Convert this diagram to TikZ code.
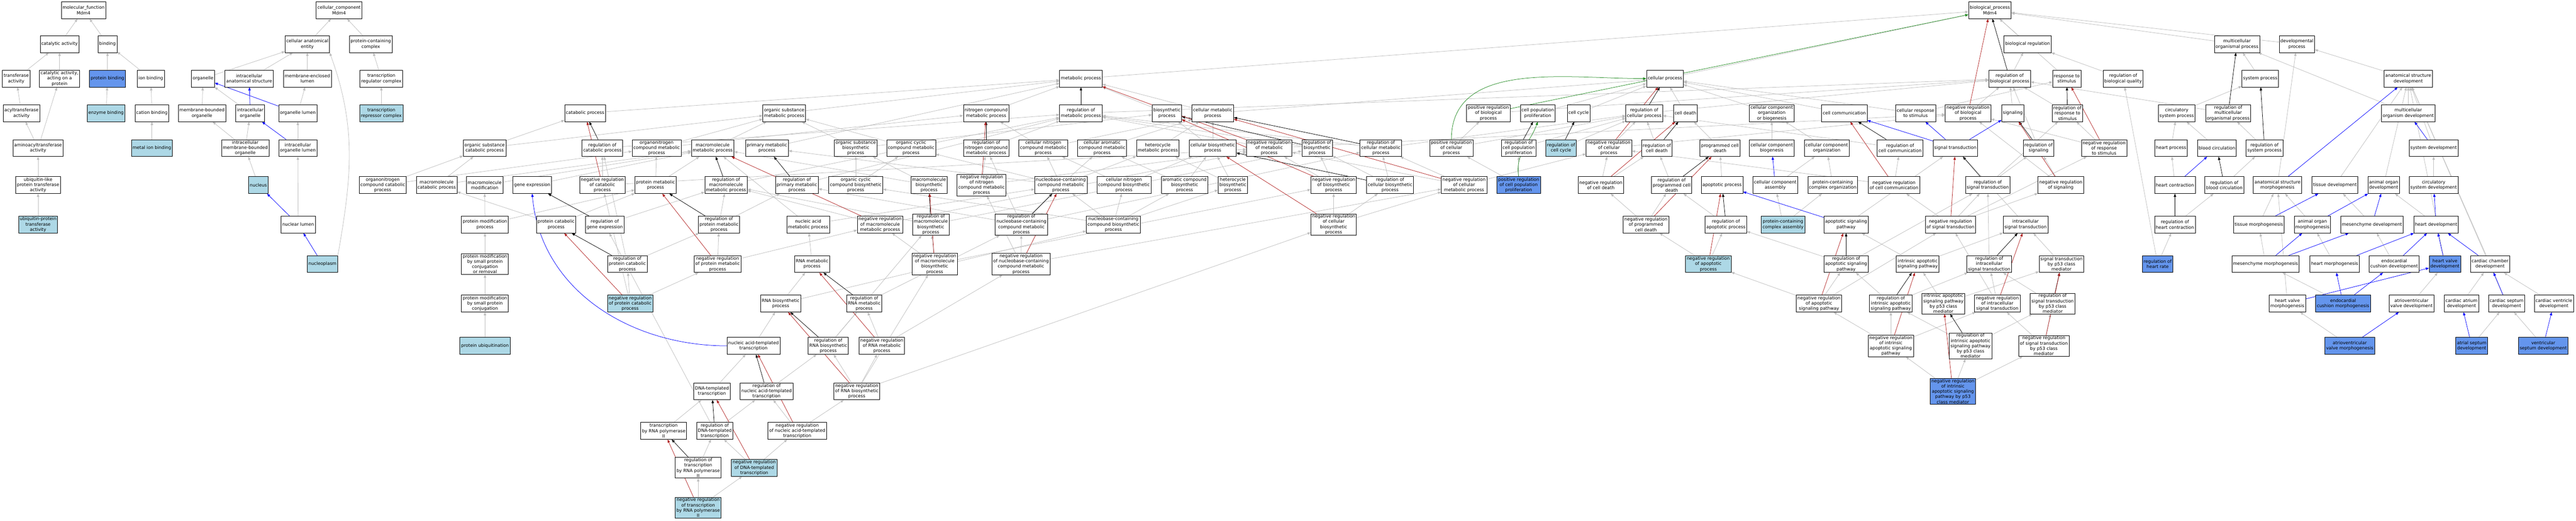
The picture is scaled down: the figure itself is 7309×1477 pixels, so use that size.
\documentclass[tikz,border=0pt]{standalone}
\usepackage{fontspec}
\setmainfont{DejaVu Sans}
\usetikzlibrary{arrows.meta,backgrounds}
\definecolor{lblue}{HTML}{ADD8E6}
\definecolor{cblue}{HTML}{6495ED}
\definecolor{egrey}{HTML}{BEBEBE}
\definecolor{ered}{HTML}{B22222}
\definecolor{egreen}{HTML}{228B22}
\tikzset{
  term/.style={draw, line width=1pt, fill=white, align=center, inner xsep=3.5pt, inner ysep=2pt, minimum height=48pt, font=\fontsize{12.5}{15}\selectfont},
  lbterm/.style={term, fill=lblue},
  cbterm/.style={term, fill=cblue},
  isaedge/.style={draw=egrey, line width=1.1pt, -{Triangle[length=9pt,width=7pt]}},
  regedge/.style={isaedge, draw=black},
  negedge/.style={isaedge, draw=ered},
  partedge/.style={isaedge, draw=blue},
  posedge/.style={isaedge, draw=egreen}
}
\begin{document}
\begin{tikzpicture}[x=1pt,y=-1pt]
\useasboundingbox (0,0) rectangle (7309,1477);
% molecular function
\node[term] (mf) at (237,29) {molecular\_function\\Mdm4};
\node[term] (cat) at (169,125) {catalytic activity};
\node[term] (bind) at (305,125) {binding};
\node[term] (trans) at (46,223) {transferase\\activity};
\node[term] (catp) at (169,223) {catalytic activity,\\acting on a\\protein};
\node[cbterm] (pbind) at (305,223) {protein binding};
\node[term] (ionb) at (428,223) {ion binding};
\node[term] (acyl) at (61,321) {acyltransferase\\activity};
\node[lbterm] (enzb) at (301,321) {enzyme binding};
\node[term] (catb) at (431,321) {cation binding};
\node[term] (amino) at (108,420) {aminoacyltransferase\\activity};
\node[lbterm] (metb) at (431,420) {metal ion binding};
\node[term] (ubl) at (108,525) {ubiquitin-like\\protein transferase\\activity};
\node[lbterm] (ubp) at (108,637) {ubiquitin-protein\\transferase\\activity};
% cellular component
\node[term] (cc) at (962,29) {cellular\_component\\Mdm4};
\node[term] (cae) at (872,125) {cellular anatomical\\entity};
\node[term] (pcc) at (1052,125) {protein-containing\\complex};
\node[term] (org) at (576,223) {organelle};
\node[term] (ias) at (707,223) {intracellular\\anatomical structure};
\node[term] (mel) at (872,223) {membrane-enclosed\\lumen};
\node[term] (trc) at (1082,223) {transcription\\regulator complex};
\node[term] (mbo) at (573,321) {membrane-bounded\\organelle};
\node[term] (io) at (710,321) {intracellular\\organelle};
\node[term] (ol) at (845,321) {organelle lumen};
\node[lbterm] (trpc) at (1082,321) {transcription\\repressor complex};
\node[term] (imbo) at (696,420) {intracellular\\membrane-bounded\\organelle};
\node[term] (iol) at (845,420) {intracellular\\organelle lumen};
\node[lbterm] (nuc) at (733,525) {nucleus};
\node[term] (nlum) at (846,637) {nuclear lumen};
\node[lbterm] (nplasm) at (915,749) {nucleoplasm};
% biological process, upper ranks
\node[term] (bp) at (5646,29) {biological\_process\\Mdm4};
\node[term] (breg) at (5753,125) {biological regulation};
\node[term] (mop) at (6347,125) {multicellular\\organismal process};
\node[term] (devp) at (6517,125) {developmental\\process};
\node[term] (metp) at (3067,223) {metabolic process};
\node[term] (cellp) at (4724,223) {cellular process};
\node[term] (rbp) at (5702,223) {regulation of\\biological process};
\node[term] (rstim) at (5864,223) {response to\\stimulus};
\node[term] (rbq) at (6024,223) {regulation of\\biological quality};
\node[term] (sysp) at (6413,223) {system process};
\node[term] (asd) at (6833,223) {anatomical structure\\development};
% rank 4
\node[term] (cata) at (1660,321) {catabolic process};
\node[term] (osmp) at (2225,321) {organic substance\\metabolic process};
\node[term] (ncmp) at (2798,321) {nitrogen compound\\metabolic process};
\node[term] (rmp) at (3067,321) {regulation of\\metabolic process};
\node[term] (bsp) at (3311,321) {biosynthetic\\process};
\node[term] (cmp) at (3441,321) {cellular metabolic\\process};
\node[term] (prbp) at (4223,321) {positive regulation\\of biological\\process};
\node[term] (cpp) at (4363,321) {cell population\\proliferation};
\node[term] (ccyc) at (4479,321) {cell cycle};
\node[term] (rcp) at (4665,321) {regulation of\\cellular process};
\node[term] (cdeath) at (4782,321) {cell death};
\node[term] (ccob) at (5027,321) {cellular component\\organization\\or biogenesis};
\node[term] (ccom) at (5233,321) {cell communication};
\node[term] (crs) at (5435,321) {cellular response\\to stimulus};
\node[term] (nrbp) at (5584,321) {negative regulation\\of biological\\process};
\node[term] (sig) at (5711,321) {signaling};
\node[term] (rrs) at (5866,321) {regulation of\\response to\\stimulus};
\node[term] (csp) at (6176,321) {circulatory\\system process};
\node[term] (rmop) at (6322,321) {regulation of\\multicellular\\organismal process};
\node[term] (mod) at (6833,321) {multicellular\\organism development};
% rank 5
\node[term] (oscp) at (1375,420) {organic substance\\catabolic process};
\node[term] (rcat) at (1709,420) {regulation of\\catabolic process};
\node[term] (oncmp) at (1863,420) {organonitrogen\\compound metabolic\\process};
\node[term] (mmp) at (2022,420) {macromolecule\\metabolic process};
\node[term] (pmp) at (2176,420) {primary metabolic\\process};
\node[term] (osbp) at (2428,420) {organic substance\\biosynthetic\\process};
\node[term] (occmp) at (2585,420) {organic cyclic\\compound metabolic\\process};
\node[term] (rncmp) at (2798,420) {regulation of\\nitrogen compound\\metabolic process};
\node[term] (cncmp) at (2960,420) {cellular nitrogen\\compound metabolic\\process};
\node[term] (camp) at (3127,420) {cellular aromatic\\compound metabolic\\process};
\node[term] (hmp) at (3285,420) {heterocycle\\metabolic process};
\node[term] (cbsp) at (3441,420) {cellular biosynthetic\\process};
\node[term] (nrmp) at (3601,420) {negative regulation\\of metabolic\\process};
\node[term] (rbsp) at (3737,420) {regulation of\\biosynthetic\\process};
\node[term] (rcmp) at (3918,420) {regulation of\\cellular metabolic\\process};
\node[term] (prcp) at (4118,420) {positive regulation\\of cellular\\process};
\node[term] (rcpp) at (4309,420) {regulation of\\cell population\\proliferation};
\node[lbterm] (rccyc) at (4429,420) {regulation of\\cell cycle};
\node[term] (nrcp) at (4565,420) {negative regulation\\of cellular\\process};
\node[term] (rcd) at (4701,420) {regulation of\\cell death};
\node[term] (pcd) at (4880,420) {programmed cell\\death};
\node[term] (ccbio) at (5027,420) {cellular component\\biogenesis};
\node[term] (ccorg) at (5183,420) {cellular component\\organization};
\node[term] (rcc) at (5391,420) {regulation of\\cell communication};
\node[term] (st) at (5548,420) {signal transduction};
\node[term] (rsig) at (5784,420) {regulation of\\signaling};
\node[term] (nrrs) at (5970,420) {negative regulation\\of response\\to stimulus};
\node[term] (hp) at (6160,420) {heart process};
\node[term] (bc) at (6290,420) {blood circulation};
\node[term] (rsp) at (6425,420) {regulation of\\system process};
\node[term] (sdev) at (6905,420) {system development};
% rank 6
\node[term] (oncc) at (1086,525) {organonitrogen\\compound catabolic\\process};
\node[term] (mcp) at (1239,525) {macromolecule\\catabolic process};
\node[term] (mmod) at (1375,525) {macromolecule\\modification};
\node[term] (gexp) at (1510,525) {gene expression};
\node[term] (nrcat) at (1709,525) {negative regulation\\of catabolic\\process};
\node[term] (pmet) at (1860,525) {protein metabolic\\process};
\node[term] (rmmp) at (2060,525) {regulation of\\macromolecule\\metabolic process};
\node[term] (rpmp) at (2261,525) {regulation of\\primary metabolic\\process};
\node[term] (occbp) at (2428,525) {organic cyclic\\compound biosynthetic\\process};
\node[term] (mbp) at (2636,525) {macromolecule\\biosynthetic\\process};
\node[term] (nrncmp) at (2785,525) {negative regulation\\of nitrogen\\compound metabolic\\process};
\node[term] (nccmp) at (3010,525) {nucleobase-containing\\compound metabolic\\process};
\node[term] (cncbp) at (3189,525) {cellular nitrogen\\compound biosynthetic\\process};
\node[term] (acbp) at (3361,525) {aromatic compound\\biosynthetic\\process};
\node[term] (hbp) at (3498,525) {heterocycle\\biosynthetic\\process};
\node[term] (nrbsp) at (3784,525) {negative regulation\\of biosynthetic\\process};
\node[term] (rcbp) at (3944,525) {regulation of\\cellular biosynthetic\\process};
\node[term] (nrcmp) at (4154,525) {negative regulation\\of cellular\\metabolic process};
\node[cbterm] (prcpp) at (4309,525) {positive regulation\\of cell population\\proliferation};
\node[term] (nrcd) at (4542,525) {negative regulation\\of cell death};
\node[term] (rpcd) at (4743,525) {regulation of\\programmed cell\\death};
\node[term] (apop) at (4886,525) {apoptotic process};
\node[term] (cca) at (5037,525) {cellular component\\assembly};
\node[term] (pcco) at (5200,525) {protein-containing\\complex organization};
\node[term] (nrcc) at (5374,525) {negative regulation\\of cell communication};
\node[term] (rst) at (5640,525) {regulation of\\signal transduction};
\node[term] (nrsig) at (5847,525) {negative regulation\\of signaling};
\node[term] (hc) at (6171,525) {heart contraction};
\node[term] (rbc) at (6311,525) {regulation of\\blood circulation};
\node[term] (asm) at (6462,525) {anatomical structure\\morphogenesis};
\node[term] (tdev) at (6625,525) {tissue development};
\node[term] (aod) at (6763,525) {animal organ\\development};
\node[term] (csd) at (6905,525) {circulatory\\system development};
% rank 7
\node[term] (pmod) at (1376,637) {protein modification\\process};
\node[term] (pcat) at (1578,637) {protein catabolic\\process};
\node[term] (rge) at (1716,637) {regulation of\\gene expression};
\node[term] (rpm) at (2040,637) {regulation of\\protein metabolic\\process};
\node[term] (nam) at (2293,637) {nucleic acid\\metabolic process};
\node[term] (nrmmp) at (2497,637) {negative regulation\\of macromolecule\\metabolic process};
\node[term] (rmbp) at (2641,637) {regulation of\\macromolecule\\biosynthetic\\process};
\node[term] (rnccmp) at (2898,637) {regulation of\\nucleobase-containing\\compound metabolic\\process};
\node[term] (nccbp) at (3159,637) {nucleobase-containing\\compound biosynthetic\\process};
\node[term] (nrcbp) at (3784,637) {negative regulation\\of cellular\\biosynthetic\\process};
\node[term] (nrpcd) at (4670,637) {negative regulation\\of programmed\\cell death};
\node[term] (rap) at (4897,637) {regulation of\\apoptotic process};
\node[lbterm] (pcca) at (5059,637) {protein-containing\\complex assembly};
\node[term] (asp) at (5238,637) {apoptotic signaling\\pathway};
\node[term] (nrst) at (5534,637) {negative regulation\\of signal transduction};
\node[term] (ist) at (5747,637) {intracellular\\signal transduction};
\node[term] (rhc) at (6171,637) {regulation of\\heart contraction};
\node[term] (tmor) at (6409,637) {tissue morphogenesis};
\node[term] (aom) at (6561,637) {animal organ\\morphogenesis};
\node[term] (mdev) at (6730,637) {mesenchyme development};
\node[term] (hdev) at (6912,637) {heart development};
% rank 8
\node[term] (pmscr) at (1376,749) {protein modification\\by small protein\\conjugation\\or removal};
\node[term] (rpcat) at (1780,749) {regulation of\\protein catabolic\\process};
\node[term] (nrpm) at (2036,749) {negative regulation\\of protein metabolic\\process};
\node[term] (rnamp) at (2304,749) {RNA metabolic\\process};
\node[term] (nrmbp) at (2652,749) {negative regulation\\of macromolecule\\biosynthetic\\process};
\node[term] (nrnccmp) at (2897,749) {negative regulation\\of nucleobase-containing\\compound metabolic\\process};
\node[lbterm] (nrap) at (4847,749) {negative regulation\\of apoptotic\\process};
\node[term] (rasp) at (5238,749) {regulation of\\apoptotic signaling\\pathway};
\node[term] (iasp) at (5441,749) {intrinsic apoptotic\\signaling pathway};
\node[term] (rist) at (5644,749) {regulation of\\intracellular\\signal transduction};
\node[term] (stp53) at (5849,749) {signal transduction\\by p53 class\\mediator};
\node[cbterm] (rhr) at (6122,749) {regulation of\\heart rate};
\node[term] (mmor) at (6428,749) {mesenchyme morphogenesis};
\node[term] (hmor) at (6624,749) {heart morphogenesis};
\node[term] (ecd) at (6793,749) {endocardial\\cushion development};
\node[cbterm] (hvd) at (6937,749) {heart valve\\development};
\node[term] (ccd) at (7065,749) {cardiac chamber\\development};
% rank 9
\node[term] (pmsc) at (1376,861) {protein modification\\by small protein\\conjugation};
\node[lbterm] (nrpcat) at (1788,861) {negative regulation\\of protein catabolic\\process};
\node[term] (rnabsp) at (2215,861) {RNA biosynthetic\\process};
\node[term] (rrnamp) at (2452,861) {regulation of\\RNA metabolic\\process};
\node[term] (nrasp) at (5161,861) {negative regulation\\of apoptotic\\signaling pathway};
\node[term] (riasp) at (5365,861) {regulation of\\intrinsic apoptotic\\signaling pathway};
\node[term] (iaspp) at (5514,861) {intrinsic apoptotic\\signaling pathway\\by p53 class\\mediator};
\node[term] (nrist) at (5667,861) {negative regulation\\of intracellular\\signal transduction};
\node[term] (rstp) at (5824,861) {regulation of\\signal transduction\\by p53 class\\mediator};
\node[term] (hvm) at (6490,861) {heart valve\\morphogenesis};
\node[cbterm] (ecm) at (6648,861) {endocardial\\cushion morphogenesis};
\node[term] (avd) at (6842,861) {atrioventricular\\valve development};
\node[term] (cad) at (6984,861) {cardiac atrium\\development};
\node[term] (csdev) at (7112,861) {cardiac septum\\development};
\node[term] (cvd) at (7246,861) {cardiac ventricle\\development};
% rank 10
\node[lbterm] (pubi) at (1376,981) {protein ubiquitination};
\node[term] (nat) at (2138,981) {nucleic acid-templated\\transcription};
\node[term] (rrnabsp) at (2350,981) {regulation of\\RNA biosynthetic\\process};
\node[term] (nrrnamp) at (2502,981) {negative regulation\\of RNA metabolic\\process};
\node[term] (nriasp) at (5365,981) {negative regulation\\of intrinsic\\apoptotic signaling\\pathway};
\node[term] (riaspp) at (5591,981) {regulation of\\intrinsic apoptotic\\signaling pathway\\by p53 class\\mediator};
\node[term] (nrstp) at (5799,981) {negative regulation\\of signal transduction\\by p53 class\\mediator};
\node[cbterm] (avm) at (6667,981) {atrioventricular\\valve morphogenesis};
\node[cbterm] (asdev) at (7013,981) {atrial septum\\development};
\node[cbterm] (vsd) at (7216,981) {ventricular\\septum development};
% ranks 11 to 14
\node[term] (dnat) at (2020,1110) {DNA-templated\\transcription};
\node[term] (rnat) at (2175,1110) {regulation of\\nucleic acid-templated\\transcription};
\node[term] (nrrnabsp) at (2431,1110) {negative regulation\\of RNA biosynthetic\\process};
\node[cbterm] (nriaspp) at (5541,1110) {negative regulation\\of intrinsic\\apoptotic signaling\\pathway by p53\\class mediator};
\node[term] (trp2) at (1883,1222) {transcription\\by RNA polymerase\\II};
\node[term] (rdnat) at (2028,1222) {regulation of\\DNA-templated\\transcription};
\node[term] (nrnat) at (2262,1222) {negative regulation\\of nucleic acid-templated\\transcription};
\node[term] (rtrp2) at (1981,1327) {regulation of\\transcription\\by RNA polymerase\\II};
\node[lbterm] (nrdnat) at (2140,1327) {negative regulation\\of DNA-templated\\transcription};
\node[lbterm] (nrtrp2) at (1981,1440) {negative regulation\\of transcription\\by RNA polymerase\\II};
% edges
\begin{scope}[on background layer]
\fill[white] (0,0) rectangle (7309,1477);
\foreach \a/\b in {cat/mf, bind/mf, trans/cat, catp/cat, pbind/bind, ionb/bind, acyl/trans, enzb/pbind, catb/ionb, amino/acyl, amino/catp, metb/catb, ubl/amino, ubp/ubl,
  cae/cc, pcc/cc, org/cae, ias/cae, mel/cae, trc/pcc, mbo/org, io/org, ol/mel, trpc/trc, imbo/mbo, imbo/io, iol/ol, nuc/imbo, nlum/iol}
  \draw[isaedge] (\a) -- (\b);
\draw[isaedge] (nplasm.north east) to[out=80,in=-70] (cae.south east);
\foreach \a/\b in {io/ias, ol/org, iol/io, nlum/nuc, nplasm/nlum}
  \draw[partedge] (\a) -- (\b);
\foreach \a/\b in {metp/bp, cellp/bp, breg/bp, rstim/bp, mop/bp, devp/bp, rbp/breg, rbq/breg,
  cata/metp, osmp/metp, pmp/metp, ncmp/metp, bsp/metp, cmp/metp, cmp/cellp,
  oscp/cata, oscp/osmp, oncmp/osmp, oncmp/ncmp, mmp/osmp, osbp/osmp, osbp/bsp, occmp/osmp, rcat/rmp, rmp/rbp,
  mcp/oscp, mcp/mmp, oncc/oscp, oncc/oncmp, mmod/mmp, gexp/mmp, nrcat/rcat, nrcat/nrmp, pmet/oncmp, pmet/mmp,
  rmmp/rmp, rpmp/rmp, occbp/osbp, occbp/occmp,
  pmod/pmet, pmod/mmod, pcat/pmet, pcat/mcp, rge/rmmp, rpm/rmmp, rpm/rpmp, nam/mmp, nam/nccmp, nrmmp/rmmp, nrmmp/nrmp,
  pmscr/pmod, rpcat/rpm, rpcat/rcat, nrpm/rpm, nrpm/nrmmp, rnamp/nam,
  pmsc/pmscr, nrpcat/rpcat, nrpcat/nrpm, nrpcat/nrcat, rnabsp/rnamp, rnabsp/nccbp, rrnamp/rnccmp,
  pubi/pmsc, nat/rnabsp, rrnabsp/rrnamp, rrnabsp/rmbp, nrrnamp/rrnamp, nrrnamp/nrnccmp,
  dnat/nat, rnat/rrnabsp, nrrnabsp/nrrnamp, nrrnabsp/rrnabsp, nrrnabsp/nrmbp, nrrnabsp/nrcbp,
  trp2/dnat, rdnat/rnat, rdnat/rge, nrnat/rnat, nrnat/nrrnabsp,
  rtrp2/rdnat, nrdnat/rdnat, nrdnat/nrnat, nrtrp2/rtrp2, nrtrp2/nrdnat,
  rncmp/rmp, cncmp/ncmp, cncmp/cmp, camp/cmp, hmp/cmp, cbsp/bsp, cbsp/cmp, nrmp/rmp, nrmp/nrbp,
  mbp/mmp, mbp/osbp, nrncmp/rncmp, nrncmp/nrmp, nccmp/cncmp, nccmp/camp, nccmp/hmp, nccmp/occmp, nccmp/pmp,
  cncbp/cncmp, cncbp/cbsp, acbp/camp, acbp/cbsp, hbp/hmp, hbp/cbsp,
  rmbp/rmmp, rmbp/rbsp, rnccmp/rncmp, rnccmp/rcmp, rnccmp/rpmp, nccbp/nccmp, nccbp/cncbp, nccbp/acbp, nccbp/hbp, nccbp/occbp,
  nrmbp/nrmmp, nrmbp/rmbp, nrmbp/nrbsp, nrnccmp/rnccmp, nrnccmp/nrncmp, nrnccmp/nrcmp,
  rbsp/rmp, rcmp/rmp, rcmp/rcp, prcp/prbp, prcp/rcp, prbp/rbp, rcpp/rcp, rccyc/rcp, nrcp/rcp, nrcp/nrbp, rcd/rcp,
  pcd/cdeath, cpp/cellp, ccyc/cellp, cdeath/cellp, rcp/rbp,
  nrbsp/rbsp, nrbsp/nrmp, rcbp/rbsp, rcbp/rcmp, nrcmp/rcmp, nrcmp/nrcp, nrcmp/nrmp, prcpp/rcpp, prcpp/prcp,
  nrcd/nrcp, nrcd/rcd, rpcd/rcd, apop/pcd,
  nrcbp/nrbsp, nrcbp/rcbp, nrcbp/nrcmp, nrpcd/nrcd, nrpcd/rpcd, rap/rpcd, nrap/nrpcd, nrap/rap,
  ccob/cellp, ccom/cellp, crs/cellp, crs/rstim, nrbp/rbp, sig/rbp, rrs/rbp,
  ccbio/ccob, ccorg/ccob, rcc/rcp, rsig/rbp, nrrs/rrs, nrrs/nrbp,
  cca/ccorg, pcco/ccorg, nrcc/rcc, nrcc/nrcp, rst/rsig, rst/rrs, nrsig/rsig, nrsig/nrbp,
  pcca/cca, pcca/pcco, asp/st, nrst/rst, nrst/nrsig, nrst/nrrs, nrst/nrcc, ist/st,
  rasp/rap, rasp/rst, iasp/asp, iasp/ist, rist/rst, stp53/ist,
  nrasp/nrap, nrasp/rasp, nrasp/nrst, riasp/rasp, riasp/rist, iaspp/iasp, iaspp/stp53, nrist/rist, nrist/nrst, rstp/rist,
  nriasp/riasp, nriasp/nrasp, nriasp/nrist, riaspp/riasp, riaspp/rstp, nrstp/rstp, nrstp/nrist,
  nriaspp/nriasp, nriaspp/riaspp, nriaspp/nrstp,
  sysp/mop, asd/devp, csp/sysp, rmop/rbp, mod/asd, mod/mop, hp/csp, bc/csp, rsp/rmop, sdev/asd, hc/hp, rbc/rsp,
  asm/devp, tdev/asd, aod/asd, csd/sdev, rhc/rbc, tmor/asm, aom/asm, mdev/tdev, hdev/aod, rhr/rhc, rhr/rbq,
  mmor/tmor, hmor/aom, ecd/mdev, hvd/asd, ccd/asd, hvm/asm, ecm/mmor, avd/hvd, cad/ccd, csdev/asd, cvd/ccd,
  avm/hvm, asdev/csdev, vsd/csdev}
  \draw[isaedge] (\a) -- (\b);
\foreach \a/\b in {rbp/bp, rmp/metp, rcat/cata, rncmp/ncmp, rcmp/cmp, rbsp/bsp, rcbp/cbsp, rmmp/mmp, rpmp/pmp,
  rge/gexp, rpm/pmet, rpcat/pcat, rrnamp/rnamp, rrnabsp/rnabsp, rnat/nat, rdnat/dnat, rtrp2/trp2, rmbp/mbp,
  rnccmp/nccmp, rcp/cellp, rcpp/cpp, rccyc/ccyc, rcd/cdeath, rpcd/pcd, rap/apop, rcc/ccom, rsig/sig, rrs/rstim,
  rst/st, rasp/asp, riasp/iasp, rist/ist, rstp/stp53, riaspp/iaspp, rmop/mop, rsp/sysp, rbc/bc, rhc/hc}
  \draw[regedge] (\a) -- (\b);
\foreach \a/\b in {nrbp/bp, nrmp/metp, nrcat/cata, nrncmp/ncmp, nrcmp/cmp, nrbsp/bsp, nrcbp/cbsp, nrmmp/mmp,
  nrpm/pmet, nrpcat/pcat, nrrnamp/rnamp, nrrnabsp/rnabsp, nrnat/nat, nrdnat/dnat, nrtrp2/trp2, nrmbp/mbp,
  nrnccmp/nccmp, nrcp/cellp, nrcd/cdeath, nrpcd/pcd, nrap/apop, nrcc/ccom, nrsig/sig, nrrs/rstim, nrst/st,
  nrasp/asp, nriasp/iasp, nrist/ist, nrstp/stp53, nriaspp/iaspp}
  \draw[negedge] (\a) -- (\b);
\foreach \a/\b in {cca/ccbio, st/ccom, st/crs, st/sig, asp/apop, sdev/mod, hc/bc, asm/asd, tmor/tdev, aom/aod,
  mdev/aod, hdev/csd, mmor/aom, mmor/mdev, hmor/hdev, ecd/hdev, hvd/hdev, ccd/hdev, hvm/hvd, ecm/hmor, ecm/ecd,
  avm/avd, asdev/cad, vsd/cvd, csdev/ccd}
  \draw[partedge] (\a) -- (\b);
\draw[partedge] (nat.west) to[out=180,in=-85] (gexp.south);
\draw[posedge] (prbp) -- (bp);
\draw[posedge] (prcp.north) to[out=90,in=180] (cellp.west);
\draw[posedge] (prcpp.north) to[out=100,in=-110] (cpp.south);
\end{scope}
\end{tikzpicture}
\end{document}
